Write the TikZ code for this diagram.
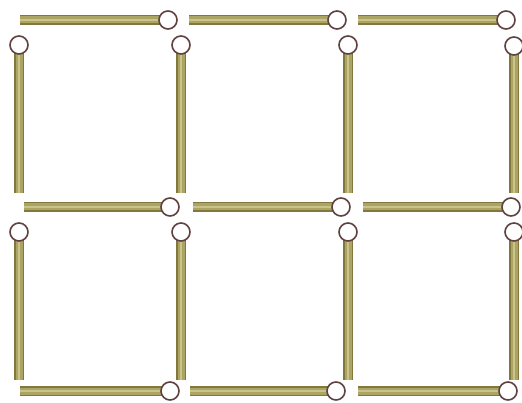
\documentclass[tikz,border=0pt]{standalone}
\definecolor{stickdark}{RGB}{130,120,62}
\definecolor{stickmid}{RGB}{172,164,98}
\definecolor{sticklight}{RGB}{200,196,140}
\definecolor{headline}{RGB}{95,65,65}
\tikzset{
  stickedge/.style={line width=10pt, draw=stickdark},
  stickbody/.style={line width=7pt, draw=stickmid},
  stickhl/.style={line width=2.5pt, draw=sticklight},
  head/.style={circle, draw=headline, line width=1.6pt, fill=white, minimum size=18pt, inner sep=0pt},
}
\newcommand{\matchstick}[2]{\draw[stickedge] #1 -- #2; \draw[stickbody] #1 -- #2; \draw[stickhl] #1 -- #2;}
\begin{document}
\begin{tikzpicture}[x=1pt,y=-1pt]
\useasboundingbox[fill=white] (0,0) rectangle (522,403);
% horizontal match starts (tail ends)
\coordinate (ta1) at (20,20);  \coordinate (ta2) at (189,20);  \coordinate (ta3) at (358,20);
\coordinate (tb1) at (24,207); \coordinate (tb2) at (193,207); \coordinate (tb3) at (363,207);
\coordinate (tc1) at (20,391); \coordinate (tc2) at (190,391); \coordinate (tc3) at (358,391);
% vertical match tails
\coordinate (ua1) at (19,193); \coordinate (ua2) at (181,193); \coordinate (ua3) at (348,193); \coordinate (ua4) at (514,193);
\coordinate (ub1) at (19,380); \coordinate (ub2) at (181,380); \coordinate (ub3) at (348,380); \coordinate (ub4) at (514,380);
% head positions
\coordinate (pa1) at (168,20);  \coordinate (pa2) at (337,20);  \coordinate (pa3) at (506,20);
\coordinate (pb1) at (170,207); \coordinate (pb2) at (341,207); \coordinate (pb3) at (511,207);
\coordinate (pc1) at (170,391); \coordinate (pc2) at (336,391); \coordinate (pc3) at (508,391);
\coordinate (qa1) at (19,45);  \coordinate (qa2) at (181,45);  \coordinate (qa3) at (348,45);  \coordinate (qa4) at (514,46);
\coordinate (qb1) at (19,232); \coordinate (qb2) at (181,232); \coordinate (qb3) at (348,232); \coordinate (qb4) at (514,232);
% sticks
\foreach \r in {a,b,c}{\foreach \i in {1,2,3}{\matchstick{(t\r\i)}{(p\r\i)}}}
\foreach \r in {a,b}{\foreach \i in {1,2,3,4}{\matchstick{(u\r\i)}{(q\r\i)}}}
% heads
\foreach \r in {a,b,c}{\foreach \i in {1,2,3}{\node[head] (hp\r\i) at (p\r\i) {};}}
\foreach \r in {a,b}{\foreach \i in {1,2,3,4}{\node[head] (hq\r\i) at (q\r\i) {};}}
\end{tikzpicture}
\end{document}
